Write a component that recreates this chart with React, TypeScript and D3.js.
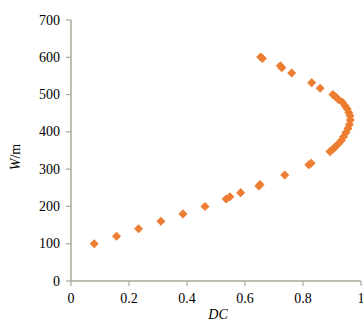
import * as d3 from 'd3';

const MARGIN = { top: 20, right: 2, bottom: 40, left: 71 };

// DC values and depth W (m)
const dcValues = [
  0.08, 0.157, 0.233, 0.31, 0.386, 0.462, 0.535, 0.548, 0.585, 0.648, 0.652,
  0.737, 0.82, 0.828, 0.893, 0.904, 0.912, 0.922, 0.932, 0.94, 0.948, 0.955,
  0.96, 0.963, 0.962, 0.958, 0.952, 0.945, 0.935, 0.922, 0.912, 0.903, 0.859,
  0.83, 0.761, 0.727, 0.722, 0.66, 0.654,
];
const depthValues = [
  100, 120, 140, 160, 180, 200, 220, 226, 237, 255, 259,
  284, 312, 316, 347, 354, 360, 368, 377, 387, 398, 409,
  420, 432, 443, 452, 462, 470, 480, 487, 494, 500, 517,
  532, 558, 572, 577, 597, 601,
];
const xTicks = [0, 0.2, 0.4, 0.6, 0.8, 1];
const yTicks = [0, 100, 200, 300, 400, 500, 600, 700];

const AXIS = '#a8a89c';
const ORANGE = '#ed7d31';
const FONT = '"Liberation Serif", "Times New Roman", serif';

export default function App() {
  const width = 363,
    height = 321;
  const boundsWidth = width - MARGIN.left - MARGIN.right;
  const boundsHeight = height - MARGIN.top - MARGIN.bottom;

  const xScale = d3.scaleLinear().domain([0, 1]).range([0, boundsWidth]);
  const yScale = d3.scaleLinear().domain([0, 700]).range([boundsHeight, 0]);

  const diamond = d3.symbol().type(d3.symbolDiamond2).size(52)();

  const points = dcValues.map((dc, i) => (
    <path
      key={i}
      d={diamond ?? ''}
      transform={`translate(${xScale(dc)},${yScale(depthValues[i])})`}
      fill={ORANGE}
    />
  ));

  const xAxis = (
    <g>
      <line x1={0} x2={boundsWidth} y1={boundsHeight} y2={boundsHeight} stroke={AXIS} strokeWidth={1.5} />
      {xTicks.map((t) => (
        <g key={t}>
          <line x1={xScale(t)} x2={xScale(t)} y1={boundsHeight} y2={boundsHeight + 5} stroke={AXIS} strokeWidth={1.2} />
          <text x={xScale(t)} y={boundsHeight + 22} textAnchor="middle" fontSize={14}>
            {t}
          </text>
        </g>
      ))}
    </g>
  );

  const yAxis = (
    <g>
      <line x1={0} x2={0} y1={0} y2={boundsHeight} stroke={AXIS} strokeWidth={1.5} />
      {yTicks.map((t) => (
        <g key={t}>
          <line x1={-5} x2={0} y1={yScale(t)} y2={yScale(t)} stroke={AXIS} strokeWidth={1.2} />
          <text x={-11} y={yScale(t)} textAnchor="end" dominantBaseline="central" fontSize={14}>
            {t}
          </text>
        </g>
      ))}
    </g>
  );

  return (
    <div style={{ position: 'absolute', left: 0, top: 0 }}>
      <svg width={width} height={height} style={{ display: 'block', fontFamily: FONT }}>
        <rect width={width} height={height} fill="#fff" />
        <g transform={`translate(${MARGIN.left},${MARGIN.top})`}>
          {xAxis}
          {yAxis}
          {points}
          <text x={boundsWidth / 2 + 2} y={boundsHeight + 38} textAnchor="middle" fontSize={14} fontStyle="italic">
            DC
          </text>
        </g>
        <text transform="translate(20,157) rotate(-90)" textAnchor="middle" fontSize={14}>
          <tspan fontStyle="italic">W</tspan>/m
        </text>
      </svg>
    </div>
  );
}
